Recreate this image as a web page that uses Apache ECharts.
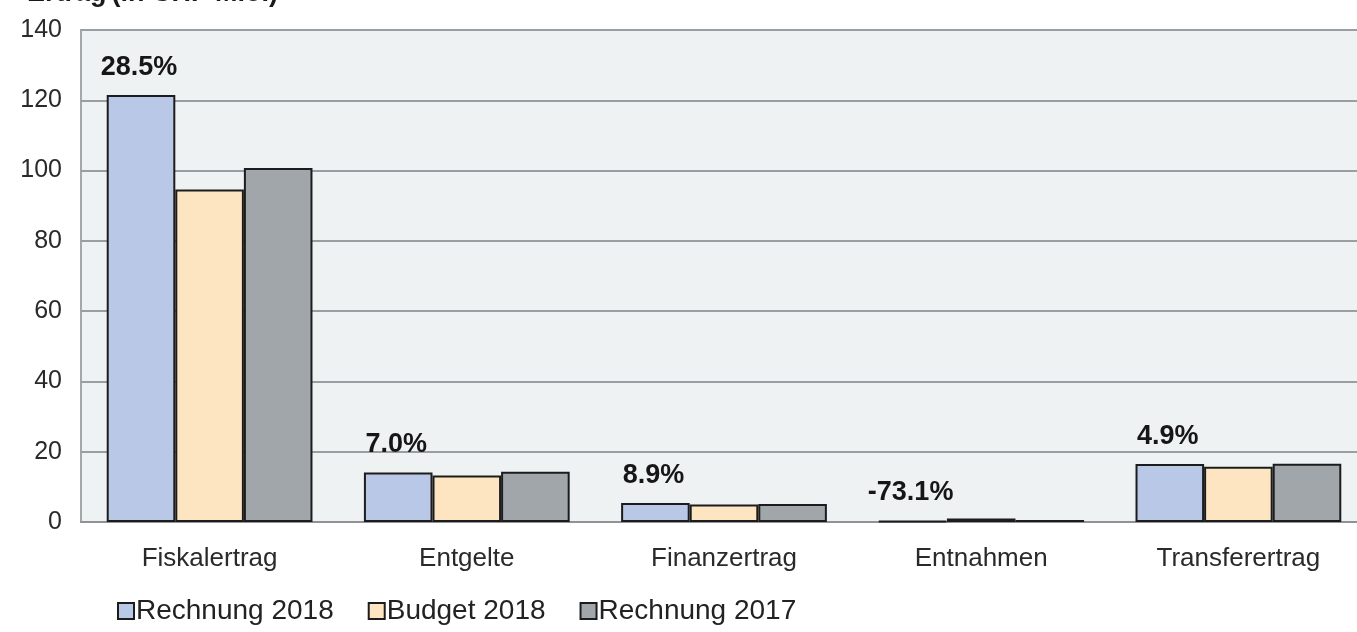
<!DOCTYPE html>
<html>
<head>
<meta charset="utf-8">
<script src="https://cdn.jsdelivr.net/npm/echarts@6/dist/echarts.min.js"></script>
<style>html,body{margin:0;padding:0;background:#fff;overflow:hidden;}#c{width:1367px;height:632px;}</style>
</head>
<body>
<div id="c"></div>
<script>
const categories = ['Fiskalertrag', 'Entgelte', 'Finanzertrag', 'Entnahmen', 'Transferertrag'];
const rechnung2018 = [121.5, 14.1, 5.4, 0.27, 16.5];
const budget2018 = [94.6, 13.2, 4.95, 1.0, 15.7];
const rechnung2017 = [100.7, 14.3, 5.1, 0.6, 16.6];
const changeLabels = ['28.5%', '7.0%', '8.9%', '-73.1%', '4.9%'];
const yTicks = [0, 20, 40, 60, 80, 100, 120, 140];

const FONT = 'Liberation Sans, Arial, sans-serif';
const chart = echarts.init(document.getElementById('c'));
const border = { borderColor: '#1c1c1c', borderWidth: 2 };

chart.setOption({
  animation: false,
  textStyle: { fontFamily: FONT },
  title: {
    left: 22, top: -25,
    text: '{b|Ertrag} {n|(in CHF Mio.)}',
    textStyle: {
      rich: {
        b: { fontFamily: FONT, fontSize: 27, fontWeight: 'bold', color: '#1a1a1a' },
        n: { fontFamily: FONT, fontSize: 27, color: '#1a1a1a' }
      }
    }
  },
  grid: {
    left: 81, right: 0, top: 30, bottom: 110,
    show: true, backgroundColor: '#eff2f3', borderColor: '#a3a7ab', borderWidth: 2
  },
  legend: {
    left: 112, top: 592,
    itemWidth: 16, itemHeight: 16, itemGap: 34,
    icon: 'rect',
    textStyle: { fontFamily: FONT, fontSize: 28, color: '#222', padding: [0, 0, 0, -3] },
    data: ['Rechnung 2018', 'Budget 2018', 'Rechnung 2017']
  },
  xAxis: {
    type: 'category',
    data: categories,
    axisLine: { lineStyle: { color: '#8f9397', width: 2 } },
    axisTick: { show: false },
    axisLabel: { fontFamily: FONT, fontSize: 26, color: '#2a2a2a', margin: 24 }
  },
  yAxis: {
    type: 'value', min: yTicks[0], max: yTicks[yTicks.length - 1], interval: 20,
    axisLine: { show: false },
    axisTick: { show: false },
    axisLabel: { fontFamily: FONT, fontSize: 25, color: '#2a2a2a', margin: 19 },
    splitLine: { lineStyle: { color: '#9a9ea2', width: 2 } }
  },
  series: [
    {
      name: 'Rechnung 2018', type: 'bar', data: rechnung2018,
      barGap: '0%', barCategoryGap: '20%',
      itemStyle: Object.assign({ color: '#b9c8e6' }, border),
      label: {
        show: true, position: 'top', distance: 14, offset: [-2, 0],
        fontFamily: FONT, fontSize: 27, fontWeight: 'bold', color: '#161616',
        formatter: p => changeLabels[p.dataIndex]
      }
    },
    {
      name: 'Budget 2018', type: 'bar', data: budget2018,
      itemStyle: Object.assign({ color: '#fde5c1' }, border)
    },
    {
      name: 'Rechnung 2017', type: 'bar', data: rechnung2017,
      itemStyle: Object.assign({ color: '#a1a6ab' }, border)
    }
  ]
});
</script>
</body>
</html>
